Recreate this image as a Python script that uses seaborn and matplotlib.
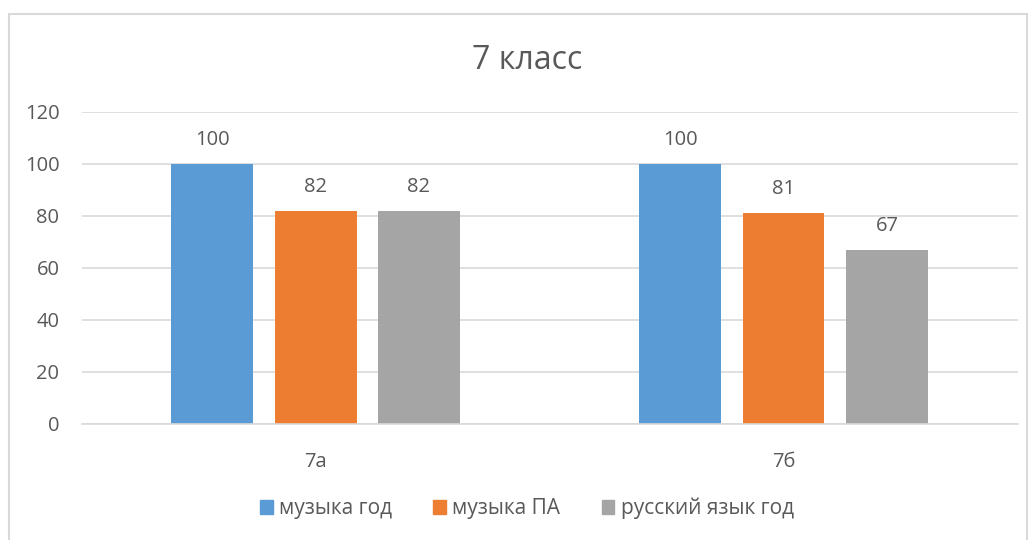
import matplotlib.pyplot as plt
import matplotlib.patches as mpatches
import seaborn as sns
import pandas as pd

# data
classes = ['7а', '7б']
series = ['музыка год', 'музыка ПА', 'русский язык год']
muz_god = [100, 100]
muz_pa = [82, 81]
rus_god = [82, 67]
colors = ['#5B9BD5', '#ED7D31', '#A5A5A5']

df = pd.DataFrame({
    'class': classes * 3,
    'series': [series[0]] * 2 + [series[1]] * 2 + [series[2]] * 2,
    'value': muz_god + muz_pa + rus_god,
})

sns.set_style('white')
plt.rcParams['font.family'] = ['Open Sans', 'DejaVu Sans']
txt = '#595959'

fig = plt.figure(figsize=(10.33, 5.4), dpi=100)
ax = fig.add_axes([0.079, 0.215, 0.906, 0.578])

sns.barplot(data=df, x='class', y='value', hue='series', palette=colors,
            width=0.663, gap=0.208, saturation=1, linewidth=0, edgecolor='none',
            ax=ax, legend=False)

for c in ax.containers:
    ax.bar_label(c, fmt='%d', padding=10, fontsize=14.5, color=txt)

ax.set_ylim(0, 120)
ax.set_yticks(range(0, 121, 20))
ax.yaxis.grid(True, color='#D9D9D9', linewidth=1.2)
ax.set_axisbelow(True)
for s in ['left', 'right', 'top']:
    ax.spines[s].set_visible(False)
ax.spines['bottom'].set_color('#D9D9D9')
ax.spines['bottom'].set_linewidth(1.2)
ax.tick_params(axis='y', length=0, labelsize=14.5, labelcolor=txt, pad=16)
ax.tick_params(axis='x', length=0, labelsize=14.5, labelcolor=txt, pad=20)
ax.set_xlabel('')
ax.set_ylabel('')

fig.text(0.51, 0.888, '7 класс', ha='center', va='center', fontsize=23, color=txt)

handles = [mpatches.Patch(color=col, label=lab) for col, lab in zip(colors, series)]
fig.legend(handles=handles, loc='center', bbox_to_anchor=(0.51, 0.058), ncol=3,
           frameon=False, fontsize=15, labelcolor=txt, handlelength=0.6,
           handleheight=0.6, handletextpad=0.3, columnspacing=2.0)

# outer chart frame
fig.patches.append(mpatches.Rectangle((0.009, -0.01), 0.985, 0.985, transform=fig.transFigure,
                                      fill=False, edgecolor='#D9D9D9', linewidth=1.5))

fig.savefig('out.png', dpi=100)
